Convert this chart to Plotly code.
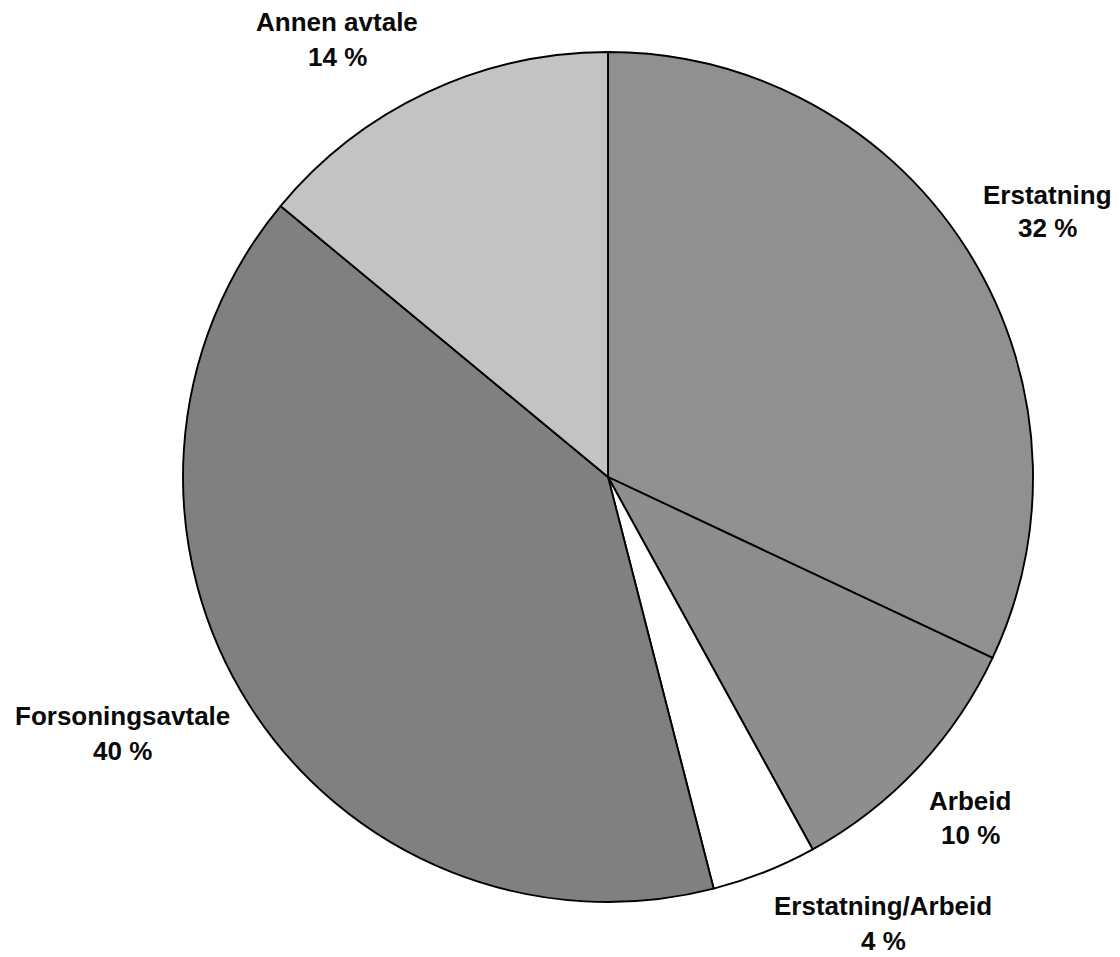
import plotly.graph_objects as go

labels = ["Erstatning", "Arbeid", "Erstatning/Arbeid", "Forsoningsavtale", "Annen avtale"]
values = [32, 10, 4, 40, 14]
colors = ["#909090", "#8e8e8e", "#ffffff", "#808080", "#c3c3c3"]

# label anchor positions in pixels (center x, center y of name line, center y of value line)
label_pos = {
    "Erstatning": (1047, 195, 228),
    "Arbeid": (970, 801, 835),
    "Erstatning/Arbeid": (883, 906, 941),
    "Forsoningsavtale": (122, 716, 751),
    "Annen avtale": (337, 22, 57),
}

W, H = 1120, 957
cx, cy, r = 608, 477, 425

fig = go.Figure(go.Pie(
    labels=labels,
    values=values,
    sort=False,
    direction="clockwise",
    rotation=0,
    marker=dict(colors=colors, line=dict(color="#000000", width=1.9)),
    textinfo="none",
    hoverinfo="label+value",
    showlegend=False,
    domain=dict(x=[(cx - r) / W, (cx + r) / W], y=[(H - cy - r) / H, (H - cy + r) / H]),
))

font = dict(family="Liberation Sans, Arial, sans-serif", size=26, color="#0a0a0a")
for lab, val in zip(labels, values):
    px, py1, py2 = label_pos[lab]
    fig.add_annotation(x=px / W, y=1 - py1 / H, xref="paper", yref="paper",
                       text=f"<b>{lab}</b>", showarrow=False, font=font,
                       xanchor="center", yanchor="middle")
    fig.add_annotation(x=px / W, y=1 - py2 / H, xref="paper", yref="paper",
                       text=f"<b>{val} %</b>", showarrow=False, font=font,
                       xanchor="center", yanchor="middle")

fig.update_layout(
    width=W, height=H,
    margin=dict(l=0, r=0, t=0, b=0),
    paper_bgcolor="white", plot_bgcolor="white",
)
fig.write_html("out.html", config={"displayModeBar": False},
               post_script="document.body.style.margin='0';document.body.style.overflow='hidden';")
